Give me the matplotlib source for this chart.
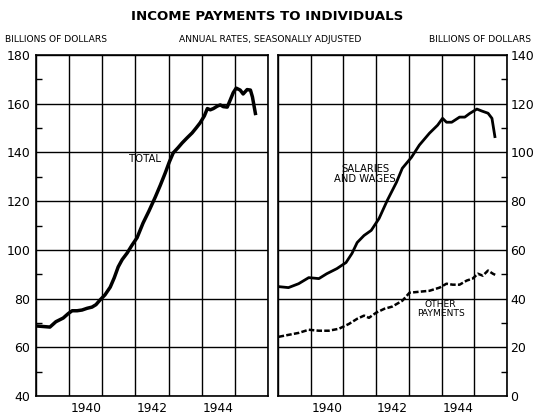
import matplotlib
matplotlib.use("Agg")
import matplotlib.pyplot as plt
from matplotlib.ticker import MultipleLocator, FixedLocator, NullFormatter

# Total income payments (billions of dollars, annual rate)
total_years = [1939.06, 1939.24, 1939.42, 1939.60, 1939.82, 1939.97, 1940.09, 1940.24,
               1940.39, 1940.54, 1940.69, 1940.81, 1940.93, 1941.08, 1941.24, 1941.36,
               1941.48, 1941.60, 1941.75, 1941.90, 1942.05, 1942.23, 1942.41, 1942.60,
               1942.75, 1942.90, 1943.02, 1943.14, 1943.29, 1943.41, 1943.56, 1943.71,
               1943.83, 1943.95, 1944.08, 1944.17, 1944.26, 1944.35, 1944.47, 1944.56,
               1944.65, 1944.77, 1944.86, 1944.95, 1945.04, 1945.16, 1945.25, 1945.37,
               1945.47, 1945.53, 1945.62]
total = [68.7, 68.5, 68.3, 70.5, 72.0, 73.8, 75.0, 75.0,
         75.3, 76.0, 76.5, 77.5, 79.4, 81.5, 84.7, 88.5,
         93.0, 96.0, 98.7, 102.0, 105.0, 111.0, 116.0, 121.7,
         126.5, 131.6, 136.0, 139.8, 142.0, 143.9, 146.0, 148.0,
         150.0, 152.1, 155.0, 158.0, 157.5, 158.0, 159.0, 159.5,
         158.8, 158.6, 161.5, 164.5, 166.4, 165.6, 164.0, 165.8,
         165.6, 162.8, 156.0]

# Salaries and wages
sw_years = [1939.02, 1939.32, 1939.63, 1939.94, 1940.25, 1940.49, 1940.80, 1941.08,
            1941.26, 1941.42, 1941.63, 1941.85, 1942.09, 1942.34, 1942.62, 1942.80,
            1943.08, 1943.32, 1943.63, 1943.88, 1944.03, 1944.15, 1944.31, 1944.55,
            1944.71, 1944.86, 1945.08, 1945.23, 1945.42, 1945.54, 1945.63]
salaries = [44.9, 44.5, 46.1, 48.6, 48.2, 50.2, 52.3, 54.8,
            58.5, 63.0, 65.9, 68.0, 72.9, 80.3, 87.7, 93.5,
            98.0, 103.0, 107.9, 111.2, 114.0, 112.4, 112.4, 114.5,
            114.5, 116.0, 117.8, 117.0, 116.1, 114.0, 106.5]

# Other payments
op_years = [1939.02, 1939.32, 1939.63, 1939.94, 1940.25, 1940.55, 1940.86, 1941.17,
            1941.42, 1941.63, 1941.78, 1942.00, 1942.25, 1942.49, 1942.80, 1943.02,
            1943.32, 1943.63, 1943.94, 1944.15, 1944.34, 1944.55, 1944.77, 1944.95,
            1945.11, 1945.26, 1945.42, 1945.57, 1945.69]
other = [24.3, 25.1, 25.9, 27.2, 26.8, 26.8, 27.6, 29.6,
         31.7, 33.0, 32.1, 34.2, 35.8, 36.7, 39.1, 42.4,
         42.8, 43.2, 44.5, 46.1, 45.7, 45.7, 47.4, 48.2,
         50.2, 49.4, 51.5, 50.2, 49.4]

year_grid = [1939, 1940, 1941, 1942, 1943, 1944, 1945, 1946]
year_label_pos = [1940.5, 1942.5, 1944.5]
year_labels = ["1940", "1942", "1944"]
left_ticks = [40, 60, 80, 100, 120, 140, 160, 180]
right_ticks = [0, 20, 40, 60, 80, 100, 120, 140]

plt.rcParams['font.family'] = ['DejaVu Sans']

fig = plt.figure(figsize=(5.33, 4.17), dpi=100)
ax1 = fig.add_axes([36 / 533, 1 - 396 / 417, 232 / 533, 341 / 417])
ax2 = fig.add_axes([278 / 533, 1 - 396 / 417, 229 / 533, 341 / 417])


def style_axis(ax, yticks, side):
    ax.set_xlim(1939, 1946)
    ax.set_ylim(yticks[0], yticks[-1])
    ax.xaxis.set_major_locator(FixedLocator(year_grid))
    ax.xaxis.set_major_formatter(NullFormatter())
    ax.xaxis.set_minor_locator(FixedLocator(year_label_pos))
    ax.set_xticklabels(year_labels, minor=True)
    ax.tick_params(axis="x", which="both", length=0, labelsize=8.8, pad=4.5)
    ax.set_yticks(yticks)
    ax.yaxis.set_minor_locator(MultipleLocator(10))
    ax.tick_params(axis="y", which="major", length=0, labelsize=9, pad=4)
    ax.tick_params(axis="y", which="minor", length=4, width=1, direction="in")
    if side == "right":
        ax.yaxis.tick_right()
        ax.tick_params(axis="y", which="both", left=False, right=True, pad=2.5)
    else:
        ax.tick_params(axis="y", which="both", left=True, right=False)
    ax.grid(True, which="major", color="black", linewidth=1.0)
    for s in ax.spines.values():
        s.set_linewidth(1.2)
    ax.set_axisbelow(True)


style_axis(ax1, left_ticks, "left")
style_axis(ax2, right_ticks, "right")

ax1.plot(total_years, total, color="black", linewidth=2.5, solid_joinstyle="round")
ax2.plot(sw_years, salaries, color="black", linewidth=2.0, solid_joinstyle="round")
ax2.plot(op_years, other, color="black", linewidth=1.8, dashes=(2.2, 0.9))

ax1.text(1942.3, 137.5, "TOTAL", fontsize=7.3, ha="center", va="center")
ax2.text(1941.66, 91, "SALARIES\nAND WAGES", fontsize=7.2, ha="center", va="center",
         linespacing=1.0)
ax2.text(1943.97, 35.8, "OTHER\nPAYMENTS", fontsize=6.6, ha="center", va="center",
         linespacing=1.0)

fig.text(267 / 533, 1 - 17 / 417, "INCOME PAYMENTS TO INDIVIDUALS", fontsize=9.6,
         fontweight="bold", ha="center", va="center")
fig.text(5 / 533, 1 - 40 / 417, "BILLIONS OF DOLLARS", fontsize=6.6, ha="left", va="center")
fig.text(270 / 533, 1 - 40 / 417, "ANNUAL RATES, SEASONALLY ADJUSTED", fontsize=6.6,
         ha="center", va="center")
fig.text(531 / 533, 1 - 40 / 417, "BILLIONS OF DOLLARS", fontsize=6.6, ha="right", va="center")

fig.savefig("out.png", dpi=100)
